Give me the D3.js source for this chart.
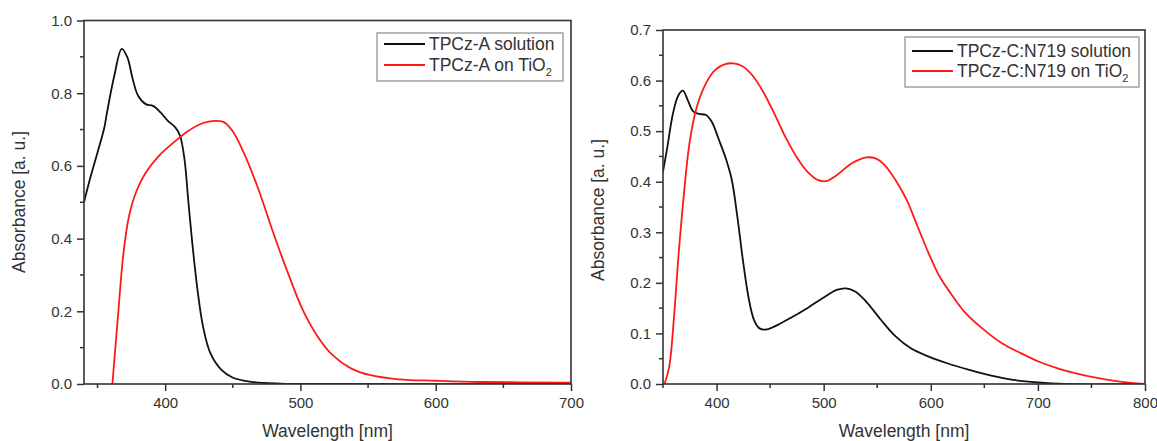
<!DOCTYPE html>
<html>
<head>
<meta charset="utf-8">
<script src="https://cdn.jsdelivr.net/npm/d3@7"></script>
<style>
  html, body { margin: 0; padding: 0; background: #fff; }
  svg { display: block; font-family: "Liberation Sans", Arial, sans-serif; }
</style>
</head>
<body>
<svg id="chart" width="1157" height="441"></svg>
<script>
// Absorption spectra: wavelength (nm) and absorbance (a. u.)
const tpczA_solution_nm = [340, 345, 350, 355, 357, 362.4, 367.9, 372, 376, 380, 385.6, 391, 396.6, 402, 407.5, 411, 414.3, 417, 419.8, 423.9, 428, 433.4, 441.6, 449.8, 463.5, 485, 520, 700];
const tpczA_solution_abs = [0.50, 0.572, 0.637, 0.705, 0.747, 0.848, 0.922, 0.899, 0.839, 0.793, 0.770, 0.765, 0.747, 0.724, 0.706, 0.683, 0.618, 0.508, 0.397, 0.259, 0.158, 0.085, 0.039, 0.018, 0.006, 0.001, 0, 0];

const tpczA_tio2_nm = [361, 365.1, 369.2, 373.3, 378.8, 385.6, 395.2, 406.1, 417, 428, 436.2, 443, 449.8, 458, 469, 479.9, 490.8, 501.7, 512.7, 523.6, 537.3, 551, 572.8, 600, 632.9, 700];
const tpczA_tio2_abs = [0, 0.186, 0.361, 0.462, 0.531, 0.581, 0.627, 0.664, 0.696, 0.718, 0.724, 0.721, 0.696, 0.637, 0.535, 0.416, 0.305, 0.204, 0.131, 0.080, 0.043, 0.025, 0.013, 0.009, 0.0055, 0.004];

const tpczC_solution_nm = [350, 354.1, 359.3, 364.4, 368.6, 373, 378.2, 383.3, 390.2, 395.4, 402.2, 409.1, 414.3, 419.4, 424.6, 429.7, 434.9, 440.1, 446.9, 457.2, 471, 484.7, 498.5, 512.2, 520.8, 529.4, 539.7, 553.4, 567.2, 581, 598.1, 615.3, 635.9, 656.5, 677.1, 700, 725, 800];
const tpczC_solution_abs = [0.42, 0.469, 0.535, 0.571, 0.580, 0.562, 0.539, 0.534, 0.532, 0.519, 0.483, 0.443, 0.403, 0.331, 0.245, 0.173, 0.127, 0.110, 0.108, 0.117, 0.133, 0.150, 0.169, 0.186, 0.189, 0.183, 0.163, 0.127, 0.094, 0.071, 0.054, 0.041, 0.028, 0.0165, 0.008, 0.003, 0, 0];

const tpczC_tio2_nm = [351.4, 355.8, 360.3, 364.4, 369.6, 374.7, 381.6, 390.2, 398.8, 407.4, 416, 424.6, 433.2, 443.5, 453.8, 464.1, 474.4, 484.7, 495, 501.9, 512.2, 526, 539.7, 548.3, 556.9, 567.2, 577.5, 587.8, 598.1, 608.4, 618.7, 632.5, 649.7, 666.8, 684, 701.2, 718.4, 735.5, 752.7, 769.9, 787.1, 800];
const tpczC_tio2_abs = [0, 0.034, 0.133, 0.252, 0.377, 0.476, 0.548, 0.595, 0.621, 0.632, 0.634, 0.628, 0.611, 0.578, 0.535, 0.489, 0.450, 0.420, 0.403, 0.401, 0.413, 0.436, 0.448, 0.446, 0.433, 0.403, 0.364, 0.311, 0.258, 0.212, 0.179, 0.140, 0.107, 0.080, 0.061, 0.044, 0.031, 0.021, 0.013, 0.0066, 0.002, 0];

// Axis ticks
const leftXMajor = [400, 500, 600, 700];
const leftXMinor = [350, 450, 550, 650];
const leftYMajor = [0, 0.2, 0.4, 0.6, 0.8, 1.0];
const leftYMinor = [0.1, 0.3, 0.5, 0.7, 0.9];
const rightXMajor = [400, 500, 600, 700, 800];
const rightXMinor = [350, 450, 550, 650, 750];
const rightYMajor = [0, 0.1, 0.2, 0.3, 0.4, 0.5, 0.6, 0.7];
const rightYMinor = [0.05, 0.15, 0.25, 0.35, 0.45, 0.55, 0.65];

// Legend labels: [main text, subscript]
const leftLegend = [["TPCz-A solution", ""], ["TPCz-A on TiO", "2"]];
const rightLegend = [["TPCz-C:N719 solution", ""], ["TPCz-C:N719 on TiO", "2"]];

const seriesColors = ["#111111", "#ff1a1a"];
const axisColor = "#333333";
const textColor = "#333333";

const svg = d3.select("#chart");

function zip(xs, ys) { return xs.map((x, i) => ({ x, y: ys[i] })); }

function panel(cfg) {
  const g = svg.append("g");
  const x = d3.scaleLinear().domain(cfg.xDomain).range([cfg.left, cfg.right]);
  const y = d3.scaleLinear().domain(cfg.yDomain).range([cfg.bottom, cfg.top]);

  // curves, clipped to the plot area
  const clipId = "clip-" + cfg.id;
  svg.append("defs").append("clipPath").attr("id", clipId)
    .append("rect").attr("x", cfg.left).attr("y", cfg.top)
    .attr("width", cfg.right - cfg.left).attr("height", cfg.bottom - cfg.top);

  const line = d3.line().x(d => x(d.x)).y(d => y(d.y)).curve(d3.curveCatmullRom.alpha(0.5));
  const curves = g.append("g").attr("clip-path", `url(#${clipId})`);
  cfg.series.forEach((s, i) => {
    curves.append("path").datum(s)
      .attr("fill", "none").attr("stroke", seriesColors[i])
      .attr("stroke-width", 1.8).attr("stroke-linejoin", "round")
      .attr("d", line);
  });

  // bottom axis
  const fmtX = d3.format("d");
  const xAxis = d3.axisBottom(x).tickValues(cfg.xMajor).tickFormat(fmtX).tickSizeInner(7).tickSizeOuter(0).tickPadding(6);
  const gx = g.append("g").attr("transform", `translate(0,${cfg.bottom})`).call(xAxis);
  gx.append("g").selectAll("line").data(cfg.xMinor).join("line")
    .attr("x1", d => x(d)).attr("x2", d => x(d)).attr("y1", 0).attr("y2", 4);

  // left axis
  const yAxis = d3.axisLeft(y).tickValues(cfg.yMajor).tickFormat(d3.format(".1f")).tickSizeInner(7).tickSizeOuter(0).tickPadding(5);
  const gy = g.append("g").attr("transform", `translate(${cfg.left},0)`).call(yAxis);
  gy.append("g").selectAll("line").data(cfg.yMinor).join("line")
    .attr("y1", d => y(d)).attr("y2", d => y(d)).attr("x1", 0).attr("x2", -4);

  [gx, gy].forEach(a => {
    a.select(".domain").remove();
    a.selectAll("line").attr("stroke", axisColor).attr("stroke-width", 1.5);
    a.selectAll("text").attr("fill", textColor).style("font-size", "15px")
      .style("font-family", "'Liberation Sans', Arial, sans-serif");
  });

  // frame
  g.append("rect").attr("x", cfg.left).attr("y", cfg.top)
    .attr("width", cfg.right - cfg.left).attr("height", cfg.bottom - cfg.top)
    .attr("fill", "none").attr("stroke", axisColor).attr("stroke-width", 1.6);

  // axis titles
  g.append("text").attr("x", (cfg.left + cfg.right) / 2).attr("y", 437)
    .attr("text-anchor", "middle").attr("fill", textColor).style("font-size", "17.5px")
    .text("Wavelength [nm]");
  g.append("text")
    .attr("transform", `translate(${cfg.yTitleX},${cfg.yTitleY}) rotate(-90)`)
    .attr("text-anchor", "middle").attr("fill", textColor).style("font-size", "17.5px")
    .text("Absorbance [a. u.]");

  // legend
  const L = cfg.legend;
  g.append("rect").attr("x", L.x).attr("y", L.y).attr("width", L.w).attr("height", L.h)
    .attr("fill", "#fff").attr("stroke", "#8a8a8a").attr("stroke-width", 1.2);
  cfg.legendLabels.forEach((lab, i) => {
    const ry = L.y + L.row0 + i * L.rowGap;
    g.append("line").attr("x1", L.x + 7).attr("x2", L.x + 48).attr("y1", ry).attr("y2", ry)
      .attr("stroke", seriesColors[i]).attr("stroke-width", 2);
    const t = g.append("text").attr("x", L.x + 52).attr("y", ry + 6)
      .attr("fill", textColor).style("font-size", "17.5px");
    t.append("tspan").text(lab[0]);
    if (lab[1]) {
      t.append("tspan").attr("dy", 5).style("font-size", "11px").text(lab[1]);
    }
  });
}

panel({
  id: "a", left: 84, right: 571, top: 20.5, bottom: 384,
  xDomain: [340, 700], yDomain: [0, 1.0],
  xMajor: leftXMajor, xMinor: leftXMinor, yMajor: leftYMajor, yMinor: leftYMinor,
  series: [zip(tpczA_solution_nm, tpczA_solution_abs), zip(tpczA_tio2_nm, tpczA_tio2_abs)],
  yTitleX: 25, yTitleY: 202,
  legend: { x: 377, y: 33, w: 186, h: 48, row0: 11, rowGap: 21 },
  legendLabels: leftLegend
});

panel({
  id: "c", left: 663, right: 1145, top: 30, bottom: 384,
  xDomain: [350, 800], yDomain: [0, 0.7],
  xMajor: rightXMajor, xMinor: rightXMinor, yMajor: rightYMajor, yMinor: rightYMinor,
  series: [zip(tpczC_solution_nm, tpczC_solution_abs), zip(tpczC_tio2_nm, tpczC_tio2_abs)],
  yTitleX: 604, yTitleY: 210,
  legend: { x: 905, y: 37, w: 234, h: 50, row0: 14, rowGap: 20 },
  legendLabels: rightLegend
});
</script>
</body>
</html>
